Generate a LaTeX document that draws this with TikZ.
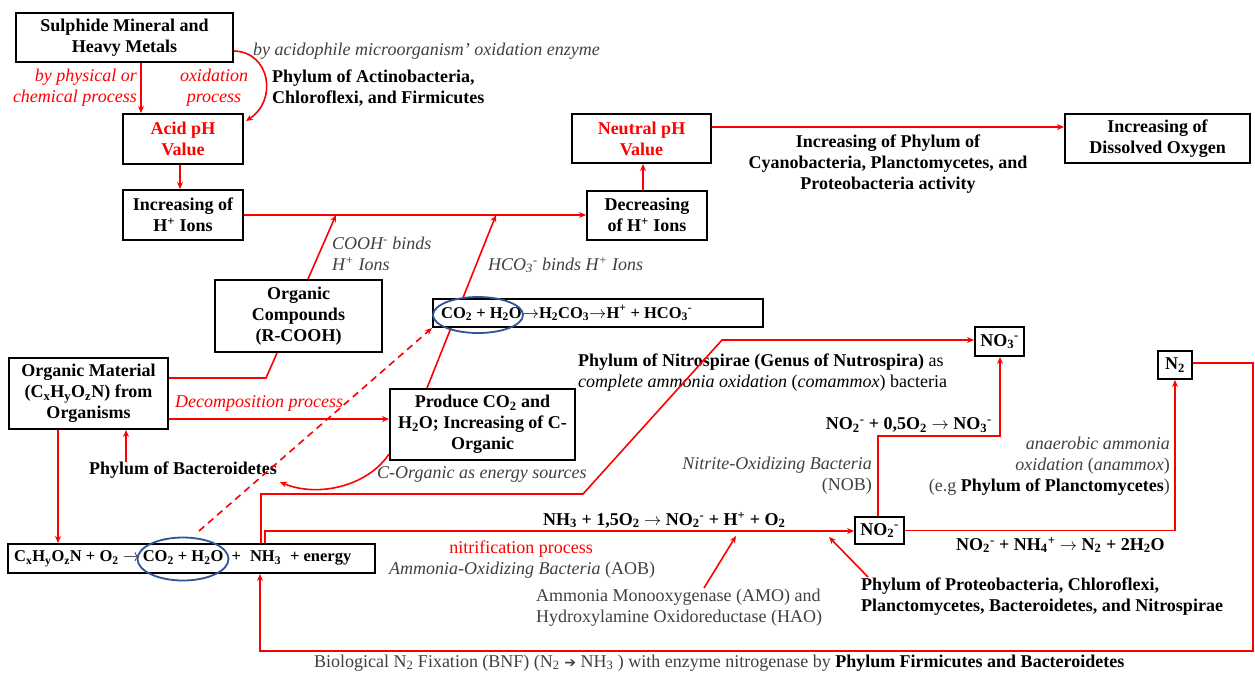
\documentclass[tikz,border=0pt]{standalone}
\usepackage{fontspec}
\setmainfont{Liberation Serif}
\newfontfamily\djv{DejaVu Sans}
\usetikzlibrary{arrows.meta,shapes.geometric,calc}
\definecolor{ellblue}{HTML}{2F5597}
\definecolor{tgray}{HTML}{404040}
\newcommand{\sbx}[1]{\textsubscript{#1}}
\newcommand{\spx}[1]{\textsuperscript{#1}}
\newcommand{\rarr}{$\rightarrow$}
\tikzset{
  base/.style={font=\fontsize{18}{21}\selectfont, inner sep=0pt},
  boldlab/.style={font=\fontsize{18}{21}\selectfont\bfseries, inner sep=0pt},
  eqlab/.style={font=\fontsize{16.5}{20}\selectfont\bfseries, inner sep=0pt},
  itlab/.style={font=\fontsize{18}{21}\selectfont\itshape, inner sep=0pt, text=tgray},
  redit/.style={font=\fontsize{18}{21}\selectfont\itshape, inner sep=0pt, text=red},
  box/.style={draw, line width=2pt, fill=white, align=center, inner sep=0pt,
              font=\fontsize{18}{21}\selectfont\bfseries},
  arr/.style={red, line width=1.6pt, -{Stealth[length=7pt,width=6pt]}},
  rline/.style={red, line width=1.6pt},
  ell/.style={ellipse, draw=ellblue, line width=1.8pt, inner sep=0pt},
}
\begin{document}
\begin{tikzpicture}[x=1pt,y=-1pt]
\useasboundingbox[fill=white] (0,0) rectangle (1255,675);

% ---------- boxes ----------
\node[box, minimum width=217pt, minimum height=49pt] (sulph) at (124.5,37.5) {Sulphide Mineral and\\Heavy Metals};
\node[box, text=red, minimum width=120pt, minimum height=50pt] (acid) at (183,139) {Acid pH\\Value};
\node[box, minimum width=120pt, minimum height=50pt] (incH) at (183,215) {Increasing of\\H\spx{+} Ions};
\node[box, text=red, minimum width=139pt, minimum height=49pt] (neutral) at (641.5,138.5) {Neutral pH\\Value};
\node[box, minimum width=120pt, minimum height=49pt] (decH) at (647,215) {Decreasing\\of H\spx{+} Ions};
\node[box, minimum width=185pt, minimum height=49pt] (dissolved) at (1157.5,138.5) {Increasing of\\Dissolved Oxygen};
\node[box, minimum width=167pt, minimum height=72pt] (orgcomp) at (298.5,316) {Organic\\Compounds\\(R-COOH)};
\node[box, minimum width=159pt, minimum height=71pt] (orgmat) at (88.5,393.5) {Organic Material\\(C\sbx{x}H\sbx{y}O\sbx{z}N) from\\Organisms};
\node[box, minimum width=185pt, minimum height=71pt] (produce) at (482.5,424.5) {Produce CO\sbx{2} and\\H\sbx{2}O; Increasing of C-\\Organic};

% line from produce through CO2 box (hidden behind box)
\coordinate (j2) at (496,215);
\draw[arr] (produce.north -| 427,0) -- (j2);

\node[box, minimum width=330pt, minimum height=28pt] (co2box) at (598,313) {};
\node[eqlab, anchor=west] (co2txt) at (441,313) {CO\sbx{2} + H\sbx{2}O\rarr H\sbx{2}CO\sbx{3}\rarr H\spx{+} + HCO\sbx{3}\spx{-}};
\node[ell, minimum width=90pt, minimum height=36pt] (ellA) at (478,315) {};

\node[box, minimum width=49pt, minimum height=29pt] (no3) at (999.5,341.5) {NO\sbx{3}\spx{-}};
\node[box, minimum width=34pt, minimum height=28pt] (n2) at (1175,365) {N\sbx{2}};
\node[box, minimum width=49pt, minimum height=27pt] (no2) at (879.5,530.5) {NO\sbx{2}\spx{-}};
\node[box, minimum width=367pt, minimum height=29pt] (eq) at (191.5,558.5) {};
\node[eqlab, anchor=west] (eqtxt) at (14,558.5) {C\sbx{x}H\sbx{y}O\sbx{z}N + O\sbx{2} \rarr{}\,CO\sbx{2} + H\sbx{2}O\ \ +\hspace{9pt}NH\sbx{3}\hspace{9pt}+ energy};
\node[ell, minimum width=91pt, minimum height=43pt] (ellB) at (183,559) {};

% ---------- labels ----------
\node[itlab, anchor=west] (tacido) at (253,51) {by acidophile microorganism' oxidation enzyme};
\node[redit, align=right, anchor=east] (tphys) at (137,88) {by physical or\\chemical process};
\node[redit, align=center] (toxid) at (214,88) {oxidation\\process};
\node[boldlab, align=left, anchor=west] (tactino) at (272,88) {Phylum of Actinobacteria,\\Chloroflexi, and Firmicutes};
\node[boldlab, align=center] (tcyano) at (888,164) {Increasing of Phylum of\\Cyanobacteria, Planctomycetes, and\\Proteobacteria activity};
\node[itlab, align=left, anchor=west] (tcooh) at (332,254) {COOH\spx{-} binds\\H\spx{+} Ions};
\node[itlab, anchor=west] (thco3) at (488,265) {HCO\sbx{3}\spx{-} binds H\spx{+} Ions};
\node[base, align=left, anchor=west] (tnitro) at (578,373) {\textbf{Phylum of Nitrospirae (Genus of Nutrospira)} as\\\textit{complete ammonia oxidation} (\textit{comammox}) bacteria};
\node[redit, anchor=west] (tdecomp) at (175,403) {Decomposition process};
\node[boldlab, anchor=west] (tbact) at (89,470) {Phylum of Bacteroidetes};
\node[itlab, anchor=west] (tcorg) at (377,474) {C-Organic as energy sources};
\node[boldlab, anchor=east] (tno2no3) at (992,425) {NO\sbx{2}\spx{-} + 0,5O\sbx{2} \rarr{} NO\sbx{3}\spx{-}};
\node[base, text=tgray, align=right, anchor=east] (tnob) at (872,476) {\textit{Nitrite-Oxidizing Bacteria}\\(NOB)};
\node[base, text=tgray, align=right, anchor=east] (tanam) at (1170,466) {\textit{anaerobic ammonia}\\\textit{oxidation} (\textit{anammox})\\(e.g \textbf{\color{black}Phylum of Planctomycetes})};
\node[boldlab, anchor=west] (tnh3eq) at (543,520) {NH\sbx{3} + 1,5O\sbx{2} \rarr{} NO\sbx{2}\spx{-} + H\spx{+} + O\sbx{2}};
\node[base, text=red] (tnitrif) at (521,549) {nitrification process};
\node[base, text=tgray, anchor=west] (taob) at (389,570) {\textit{Ammonia-Oxidizing Bacteria} (AOB)};
\node[base, text=tgray, align=left, anchor=west] (tamo) at (536,607.5) {Ammonia Monooxygenase (AMO) and\\Hydroxylamine Oxidoreductase (HAO)};
\node[boldlab, align=left, anchor=west] (tproteo) at (861,597) {Phylum of Proteobacteria, Chloroflexi,\\Planctomycetes, Bacteroidetes, and Nitrospirae};
\node[boldlab, anchor=west] (tanameq) at (956,545) {NO\sbx{2}\spx{-} + NH\sbx{4}\spx{+} \rarr{} N\sbx{2} + 2H\sbx{2}O};
\node[base, anchor=west] (tbnf) at (314,663) {\color{tgray}Biological N\sbx{2} Fixation (BNF) (N\sbx{2} {\djv\fontsize{14}{14}\selectfont ➔} NH\sbx{3} ) with enzyme nitrogenase by \color{black}\textbf{Phylum Firmicutes and Bacteroidetes}};

% ---------- connectors ----------
\draw[arr] (sulph.south -| 141,0) -- (acid.north -| 141,0);
\draw[arr] ($(sulph.south east)+(0,-12)$) .. controls (270,52) and (278,100) .. ($(acid.north east)+(2,8)$);
\draw[arr] (acid.south -| 180,0) -- (incH.north -| 180,0);
\draw[arr] (incH.east) -- (decH.west);
\coordinate (j1) at (336,215);
\draw[arr] (orgcomp.north -| 308,0) -- (j1);
\draw[arr] (decH.north -| 643,0) -- (neutral.south -| 643,0);
\draw[arr] (neutral.east |- 0,127) -- (dissolved.west |- 0,127);
\draw[rline] (orgmat.east |- 0,378) -- (266,378) -- (orgcomp.south -| 277,0);
\draw[arr] (orgmat.east |- 0,419) -- (produce.west |- 0,419);
\draw[arr] (orgmat.south -| 58,0) -- (eq.north -| 58,0);
\draw[arr] (tbact.north -| 126,0) -- (orgmat.south -| 126,0);
\coordinate (cbend) at (280,482);
\draw[arr] ($(produce.south west)+(0,-7)$) .. controls (368,486) and (318,498) .. (cbend);
\coordinate (dstart) at (199,531);
\draw[arr, dashed, dash pattern=on 7pt off 5pt] (dstart) -- (co2box.south west);
% comammox path
\draw[arr] (eq.north -| 261,0) -- (261,494) -- (583,494) -- (722,340) -- (no3.west |- 0,340);
% nitrification
\draw[arr] (eq.north -| 265,0) -- (265,531) -- (no2.west |- 0,531);
% NO2 -> NO3
\draw[arr] (no2.north -| 878,0) -- (878,436) -- (1000,436) -- (no3.south -| 1000,0);
% NO2 -> N2
\draw[arr] (no2.east) -- (n2.south |- no2.east) -- (n2.south);
% N2 -> NH3 (BNF)
\draw[arr] (n2.east |- 0,363) -- (1253,363) -- (1253,651) -- (260,651) -- (eq.south -| 260,0);
% enzyme arrows
\coordinate (amo) at (704,588);
\draw[arr] (amo) -- (736,536);
\coordinate (prot) at (868,577);
\draw[arr] (prot) -- (829,537);
\end{tikzpicture}
\end{document}
